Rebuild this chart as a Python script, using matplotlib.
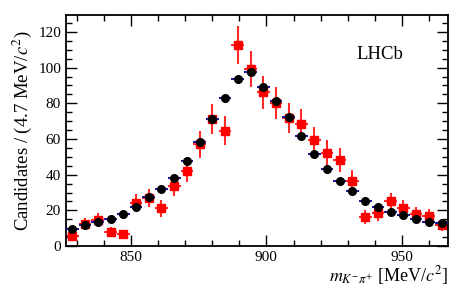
import matplotlib
matplotlib.use("Agg")
import matplotlib.pyplot as plt
import numpy as np
from matplotlib.ticker import MultipleLocator

plt.rcParams['font.family'] = ['Liberation Serif', 'DejaVu Serif']
plt.rcParams['mathtext.fontset'] = 'stix'

# bins of 4.7 MeV from 826 to 967
bin_width = 4.7
edges = 826 + bin_width * np.arange(31)
centers = edges[:-1] + bin_width / 2

# black: simulation / fit reference
black_vals = [9.5, 11.8, 13.6, 15.1, 18.1, 22.0, 27.5, 32.0, 38.0, 47.8,
              58.2, 71.0, 83.2, 93.5, 97.4, 89.0, 81.3, 72.5, 61.7, 51.4,
              43.2, 36.5, 31.0, 25.2, 21.9, 19.1, 17.4, 15.3, 13.5, 12.7]
# red: data
red_vals = [5.6, 12.3, 14.6, 7.7, 6.7, 24.3, 26.8, 21.1, 33.8, 42.2,
            57.0, 71.2, 64.7, 112.9, 99.1, 86.2, 80.4, 71.6, 68.4, 59.3,
            52.2, 48.2, 36.6, 16.4, 18.3, 25.0, 21.3, 17.8, 16.8, 11.8]

fig = plt.figure(figsize=(4.71, 2.94), dpi=100)
ax = fig.add_axes([0.140, 0.163, 0.811, 0.786])

red = np.array(red_vals)
ax.errorbar(centers, red, xerr=bin_width / 2, yerr=np.sqrt(red), fmt='s',
            color='#ff0000', ecolor='#ff2a2a', elinewidth=1.5, markersize=5.5,
            capsize=0, zorder=2)
ax.errorbar(centers, black_vals, xerr=bin_width / 2, fmt='o', color='black',
            ecolor='#1a1a9a', elinewidth=1.5, markersize=5.5, capsize=0, zorder=3)

ax.set_xlim(826, 967)
ax.set_ylim(0, 129.5)
ax.xaxis.set_major_locator(MultipleLocator(50))
ax.xaxis.set_minor_locator(MultipleLocator(10))
ax.yaxis.set_major_locator(MultipleLocator(20))
ax.yaxis.set_minor_locator(MultipleLocator(5))
ax.tick_params(which='both', direction='in', top=True, right=True,
               labelsize=11, width=1)
ax.tick_params(which='major', length=8)
ax.tick_params(which='minor', length=4)
for s in ax.spines.values():
    s.set_linewidth(1.3)

ax.set_ylabel('Candidates / (4.7 MeV/$c^2$)', fontsize=13.5, labelpad=3)
ax.set_xlabel(r'$m_{K^{-}\pi^{+}}$ [MeV/$c^2$]', fontsize=13, loc='right',
              labelpad=0)
ax.text(0.76, 0.83, 'LHCb', transform=ax.transAxes, fontsize=13.5,
        va='center', ha='left')

fig.savefig('out.png', dpi=100)
